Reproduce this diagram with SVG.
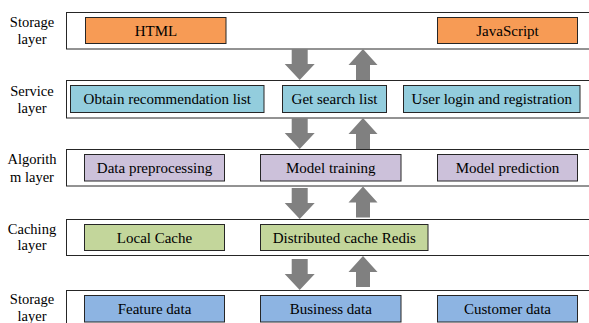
<svg xmlns="http://www.w3.org/2000/svg" width="589" height="323" viewBox="0 0 589 323">
  <style>
    .layer { fill: #ffffff; stroke: #262626; stroke-width: 1; }
    .box { stroke: #262626; stroke-width: 1; }
    .orange { fill: #F79B55; }
    .cyan { fill: #93CDDD; }
    .purple { fill: #CCC1DA; }
    .green { fill: #C3D69B; }
    .blue { fill: #8DB4E2; }
    .box-label { text-anchor: middle; }
    .side { text-anchor: middle; font-size: 14.5px; }
    .arrow { fill: #808080; }
  </style>
  <defs>
    <!-- block arrow shapes, origin at the tip -->
    <path id="down" d="M -8,-31 L 8,-31 L 8,-16 L 15,-16 L 0,0 L -15,-16 L -8,-16 Z"/>
    <path id="up" d="M -7,31 L 7,31 L 7,16 L 14.5,16 L 0,0 L -14.5,16 L -7,16 Z"/>
  </defs>
  <rect width="589" height="323" fill="#ffffff"/>

  <g font-family="'Liberation Serif', 'Times New Roman', 'DejaVu Serif', serif" font-size="15" fill="#000">

  <!-- Storage layer (top) -->
  <g id="layer-storage-top">
    <rect class="layer" x="66.5" y="12.5" width="530" height="36.5"/>
    <text class="side" x="32" y="26.5">Storage</text>
    <text class="side" x="32" y="43.5">layer</text>
  </g>
  <g id="node-html">
    <rect class="box orange" x="85.5" y="17.5" width="140.5" height="26"/>
    <text class="box-label" x="156" y="35.5">HTML</text>
  </g>
  <g id="node-javascript">
    <rect class="box orange" x="437.5" y="17.5" width="140" height="26"/>
    <text class="box-label" x="507.5" y="35.5">JavaScript</text>
  </g>

  <!-- Service layer -->
  <g id="layer-service">
    <rect class="layer" x="66.5" y="80.5" width="530" height="37.5"/>
    <text class="side" x="32" y="95.5">Service</text>
    <text class="side" x="32" y="112.5">layer</text>
  </g>
  <g id="node-recommendation">
    <rect class="box cyan" x="70.5" y="85.5" width="193.5" height="27"/>
    <text class="box-label" x="167.3" y="104">Obtain recommendation list</text>
  </g>
  <g id="node-search">
    <rect class="box cyan" x="282.5" y="85.5" width="104" height="27"/>
    <text class="box-label" x="334.5" y="104">Get search list</text>
  </g>
  <g id="node-login">
    <rect class="box cyan" x="403.5" y="85.5" width="176.5" height="27"/>
    <text class="box-label" x="491.8" y="104">User login and registration</text>
  </g>

  <!-- Algorithm layer -->
  <g id="layer-algorithm">
    <rect class="layer" x="66.5" y="149.5" width="530" height="36.5"/>
    <text class="side" x="32" y="163.5">Algorith</text>
    <text class="side" x="32" y="181.5">m layer</text>
  </g>
  <g id="node-preprocessing">
    <rect class="box purple" x="84.5" y="154.5" width="140" height="26.5"/>
    <text class="box-label" x="154.5" y="173">Data preprocessing</text>
  </g>
  <g id="node-training">
    <rect class="box purple" x="260.5" y="154.5" width="140.5" height="26.5"/>
    <text class="box-label" x="330.8" y="173">Model training</text>
  </g>
  <g id="node-prediction">
    <rect class="box purple" x="437.5" y="154.5" width="140" height="26.5"/>
    <text class="box-label" x="507.5" y="173">Model prediction</text>
  </g>

  <!-- Caching layer -->
  <g id="layer-caching">
    <rect class="layer" x="66.5" y="219.5" width="530" height="36"/>
    <text class="side" x="32" y="233.5">Caching</text>
    <text class="side" x="32" y="250">layer</text>
  </g>
  <g id="node-local-cache">
    <rect class="box green" x="84.5" y="224.5" width="140" height="26"/>
    <text class="box-label" x="154.5" y="242.5">Local Cache</text>
  </g>
  <g id="node-redis">
    <rect class="box green" x="260.5" y="224.5" width="167.5" height="26"/>
    <text class="box-label" x="344.3" y="242.5">Distributed cache Redis</text>
  </g>

  <!-- Storage layer (bottom) -->
  <g id="layer-storage-bottom">
    <rect class="layer" x="66.5" y="290.5" width="530" height="40"/>
    <text class="side" x="32" y="303.5">Storage</text>
    <text class="side" x="32" y="321">layer</text>
  </g>
  <g id="node-feature">
    <rect class="box blue" x="84.5" y="295.5" width="140" height="26.5"/>
    <text class="box-label" x="154.5" y="313.5">Feature data</text>
  </g>
  <g id="node-business">
    <rect class="box blue" x="260.5" y="295.5" width="140.5" height="26.5"/>
    <text class="box-label" x="330.8" y="313.5">Business data</text>
  </g>
  <g id="node-customer">
    <rect class="box blue" x="437.5" y="295.5" width="140" height="26.5"/>
    <text class="box-label" x="507.5" y="313.5">Customer data</text>
  </g>

  </g>

  <!-- data flow arrows between layers -->
  <g id="connectors" class="arrow">
    <use href="#down" x="299.7" y="80"/>
    <use href="#up" x="363" y="49"/>
    <use href="#down" x="299.7" y="149"/>
    <use href="#up" x="363" y="118"/>
    <use href="#down" x="299.7" y="219"/>
    <use href="#up" x="363" y="186.5"/>
    <use href="#down" x="299.7" y="290"/>
    <use href="#up" x="363" y="256"/>
  </g>
</svg>
